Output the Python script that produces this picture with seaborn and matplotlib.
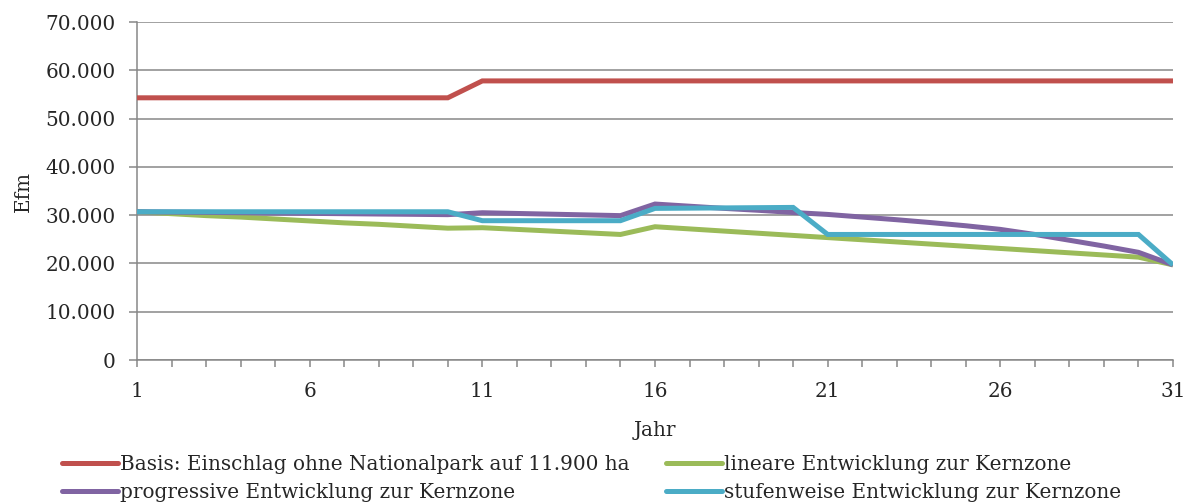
import matplotlib
matplotlib.use("Agg")
import matplotlib.pyplot as plt
import matplotlib.ticker as mticker
from matplotlib.lines import Line2D
import seaborn as sns
import pandas as pd

years = list(range(1, 32))

basis = [54300] * 10 + [57800] * 21

linear = [30700, 30300, 29900, 29600, 29200, 28800, 28400, 28100, 27700, 27300,
          27400, 27050, 26700, 26350, 26000,
          27600, 27150, 26700, 26250, 25800, 25350, 24900, 24450, 24000, 23550,
          23100, 22650, 22200, 21750, 21300, 19700]

progressive = [30700, 30630, 30570, 30500, 30430, 30370, 30300, 30230, 30170, 30100,
               30500, 30350, 30200, 30050, 29900,
               32300, 31850, 31400, 31000, 30550, 30150, 29600, 29050, 28450, 27800,
               27050, 26000, 24800, 23600, 22300, 19700]

stufen = [30700] * 10 + [28850] * 5 + [31400, 31450, 31500, 31550, 31600] + [26000] * 10 + [19700]

labels = {
    "basis": "Basis: Einschlag ohne Nationalpark auf 11.900 ha",
    "linear": "lineare Entwicklung zur Kernzone",
    "progressive": "progressive Entwicklung zur Kernzone",
    "stufen": "stufenweise Entwicklung zur Kernzone",
}
colors = {
    labels["basis"]: "#C0504D",
    labels["linear"]: "#9BBB59",
    labels["progressive"]: "#8064A2",
    labels["stufen"]: "#4BACC6",
}

x_label = "Jahr"
y_label = "Efm"

rows = []
for key, vals in [("basis", basis), ("linear", linear),
                  ("progressive", progressive), ("stufen", stufen)]:
    for y, v in zip(years, vals):
        rows.append({"Jahr": y, "Efm": v, "Serie": labels[key]})
df = pd.DataFrame(rows)

sns.set_style("white")
plt.rcParams["font.family"] = ["DejaVu Serif"]
FS = 14.4
LW = 3.6

fig = plt.figure(figsize=(11.88, 5.04), dpi=100)
ax = fig.add_axes([137 / 1188, 1 - 360 / 504, (1173 - 137) / 1188, (360 - 22) / 504])

grid_c = "#878787"
sns.lineplot(data=df, x="Jahr", y="Efm", hue="Serie", palette=colors,
             linewidth=LW, ax=ax, legend=False, zorder=3)
for ln in ax.lines:
    ln.set_solid_capstyle("butt")
    ln.set_solid_joinstyle("miter")

ax.set_xlim(1, 31)
ax.set_ylim(0, 70000)
ax.yaxis.set_major_locator(mticker.MultipleLocator(10000))
ax.yaxis.set_major_formatter(mticker.FuncFormatter(
    lambda v, p: "0" if v == 0 else f"{int(v):,}".replace(",", ".")))
ax.xaxis.set_major_locator(mticker.FixedLocator([1, 6, 11, 16, 21, 26, 31]))
ax.xaxis.set_minor_locator(mticker.FixedLocator(years))

ax.grid(axis="y", color=grid_c, linewidth=1.1, zorder=0)
ax.set_axisbelow(True)
for s in ["top", "right"]:
    ax.spines[s].set_visible(False)
for s in ["left", "bottom"]:
    ax.spines[s].set_color(grid_c)
    ax.spines[s].set_linewidth(1.1)

ax.tick_params(axis="y", which="major", direction="out", length=5.5, width=1.1,
               color=grid_c, labelsize=FS, pad=10, left=True)
ax.tick_params(axis="x", which="both", direction="out", length=5, width=1.1,
               color=grid_c, labelsize=FS, pad=10.5, bottom=True)

ax.set_xlabel(x_label, fontsize=FS, labelpad=15)
ax.set_ylabel(y_label, fontsize=FS, labelpad=9)

order = [labels["basis"], labels["progressive"], labels["linear"], labels["stufen"]]
hs = [Line2D([], [], color=colors[l], linewidth=LW, solid_capstyle="round") for l in order]
fig.legend(hs, order, loc="lower left", bbox_to_anchor=(58 / 1188, -0.003), ncol=2,
           frameon=False, fontsize=FS, handlelength=2.8, handletextpad=0.1,
           columnspacing=1.8, labelspacing=0.45, borderaxespad=0.0, borderpad=0.2)

fig.savefig("out.png", dpi=100)
